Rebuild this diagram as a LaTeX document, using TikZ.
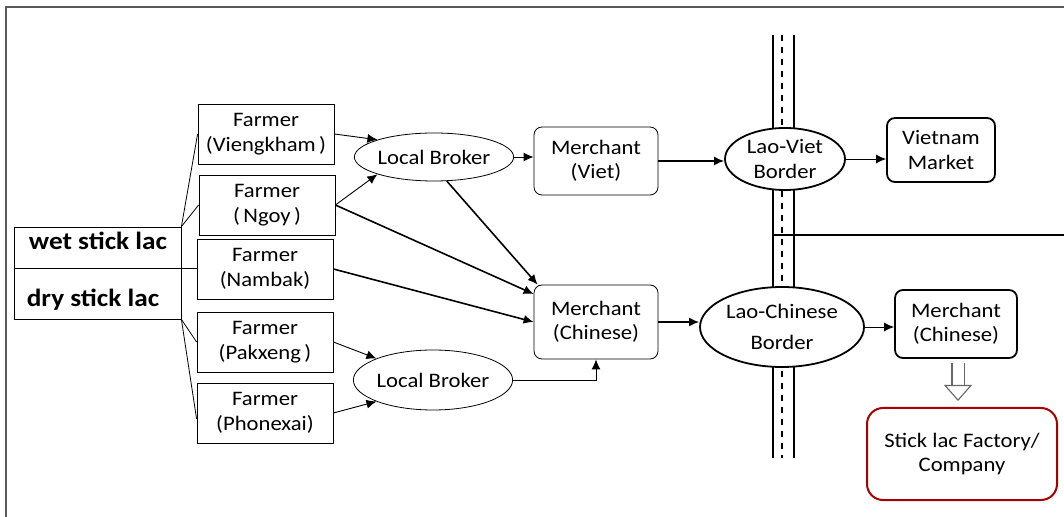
\documentclass[tikz,border=0pt]{standalone}
\usepackage{fontspec}
\setmainfont{Carlito}[FakeStretch=1.1]
\usetikzlibrary{shapes.geometric,arrows.meta}

\begin{document}
\begin{tikzpicture}[x=0.5pt,y=-0.5pt,
  farmerbox/.style={draw,minimum width=68pt,minimum height=30pt,inner sep=1pt,align=center},
  broker/.style={ellipse,draw,minimum width=76pt,minimum height=24pt,inner sep=0pt},
  merchant/.style={draw,rounded corners=4pt,minimum width=62pt,minimum height=34pt,align=center,inner sep=1pt},
  crossing/.style={ellipse,draw,line width=0.9pt,fill=white,align=center,inner sep=0pt},
  flow/.style={-{Latex[length=5pt,width=4.5pt]},line width=0.45pt},
  bigflow/.style={-{Latex[length=5pt,width=4.5pt]},line width=0.8pt},
  font=\fontsize{10.3}{12.2}\selectfont]
\useasboundingbox (0,0) rectangle (1064,517);
\draw[gray!70!black,line width=1pt] (6,517) -- (6,7) -- (1064,7);

% kind of lac
\node[draw,minimum width=83.5pt,minimum height=46pt,inner sep=0pt] (lac) at (97.5,273) {};
\node[font=\fontsize{12.4}{14}\selectfont\bfseries] (wet) at (98,241) {wet stick lac};
\node[font=\fontsize{12.4}{14}\selectfont\bfseries] (dry) at (93,300) {dry stick lac};
\draw (lac.west |- 0,268) coordinate (mid) -- (198,268) coordinate (midend);

% farmers
\foreach \name/\vil/\x/\y in {viengkham/(Viengkham\,)/266/134,ngoy/(\,Ngoy\,)/267/205,
  nambak/(Nambak)/265/269,pakxeng/(Pakxeng\,)/265/342,phonexai/(Phonexai)/265/413}
  {\node[farmerbox] (\name) at (\x,\y) {Farmer\\\vil};}

\draw (lac.north east) -- (viengkham.west);
\draw (lac.north east) -- (ngoy.west);
\draw (lac.south east) -- (pakxeng.west);
\draw (lac.south east) -- ([yshift=-3pt]phonexai.west);

% brokers and merchants
\node[broker] (brokerA) at (434,157) {Local Broker};
\node[broker,minimum height=30pt] (brokerB) at (433,380) {Local Broker};
\node[merchant] (viet) at (596,161) {Merchant\\(Viet)};
\node[merchant,minimum height=37pt] (chinese) at (596,322) {Merchant\\(Chinese)};

\draw[flow] (viengkham.east) -- (brokerA.north west);
\draw[flow] (ngoy.east) -- (brokerA.south west);
\draw[flow] (pakxeng.east) -- (brokerB.north west);
\draw[flow] (phonexai.east) -- (brokerB.south west);
\draw[flow] (brokerA.east) -- (viet.west |- brokerA.east);
\draw[bigflow] (brokerA.-62) -- ([xshift=2pt]chinese.north west);
\draw[bigflow] (ngoy.east) -- ([yshift=14pt]chinese.west);
\draw[bigflow] (nambak.east) -- (chinese.west);
\draw[flow] (brokerB.east) -| (chinese.south);

% border
\foreach \bx/\st in {773/solid,794/solid,782/dashed}
  {\draw[line width=1pt,\st] (\bx,35) -- (\bx,458);}
\draw[line width=1.3pt] (773,235) -- (1064,235);
\node[crossing,minimum width=60pt,minimum height=31pt] (laoviet) at (785,159) {Lao-Viet\\Border};
\node[crossing,minimum width=82pt,minimum height=40pt] (laochina) at (782,327) {Lao-Chinese\\[3.3pt]Border};
\node[merchant,line width=0.9pt,minimum width=54pt,minimum height=32pt] (market) at (941,150) {Vietnam\\Market};
\node[merchant,line width=0.9pt,minimum width=61pt] (buyer) at (956,324) {Merchant\\(Chinese)};
\node[draw=red!65!black,line width=1pt,rounded corners=8pt,minimum width=95pt,minimum height=46pt,align=center] (factory) at (962,454) {Stick lac Factory/\\Company};

\draw[bigflow] (viet.east) -- (laoviet.west |- viet.east);
\draw[flow] (laoviet.east) -- (market.west |- laoviet.east);
\draw[bigflow] (chinese.east) -- (laochina.west |- chinese.east);
\draw[flow] (laochina.east) -- (buyer.west |- laochina.east);
\draw[-{Triangle[open,length=8pt,width=14pt]},double distance=5.5pt,line width=0.55pt,gray!80!black] ([xshift=1pt,yshift=-2pt]buyer.south) -- ([xshift=1pt,yshift=3pt]buyer.south |- factory.north);
\end{tikzpicture}
\end{document}
